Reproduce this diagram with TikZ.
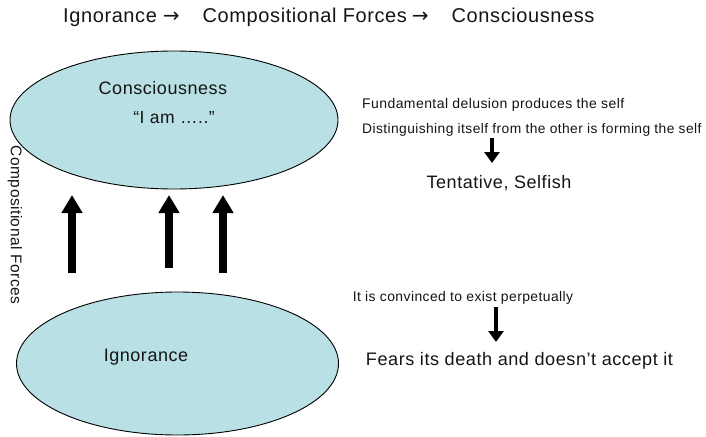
\documentclass[tikz,border=0pt]{standalone}
\usepackage{fontspec}
\setmainfont{Liberation Sans}[LetterSpace=3]
\newfontfamily\arrowfont{DejaVu Sans}
\usetikzlibrary{shapes.geometric,arrows.meta}
\definecolor{cellfill}{RGB}{185,224,228}
\definecolor{ink}{RGB}{20,20,20}
\newcommand{\flowarrow}{{\arrowfont →}}
\begin{document}
\begin{tikzpicture}[x=1pt,y=-1pt,
  cell/.style={ellipse,draw=black,line width=0.9pt,fill=cellfill,inner sep=0pt},
  lbl/.style={text=ink,inner sep=0pt},
  fs/.style={font=\fontsize{#1}{#1}\selectfont},
  uparrow/.style={line width=7.5pt,-{Triangle[width=20pt,length=18pt]}},
  downarrow/.style={line width=4.5pt,-{Triangle[width=15pt,length=11pt]}}]
\useasboundingbox (0,0) rectangle (706,436);

% title line
\node[lbl,fs=20,anchor=west] (title) at (63,17)
  {Ignorance\hspace{6pt}\flowarrow\hspace{23pt}Compositional Forces\hspace{5pt}\flowarrow\hspace{23pt}Consciousness};

% the two states
\node[cell,minimum width=328pt,minimum height=138pt] (cons) at (174,120) {};
\node[cell,minimum width=322pt,minimum height=143pt] (ign) at (177.5,363.5) {};
\node[lbl,fs=18] (constxt) at (163,88) {Consciousness};
\node[lbl,fs=17.5] (iam) at (174,118) {“I am  …..”};
\node[lbl,fs=18] (igntxt) at (146,357) {Ignorance};

% side label
\node[lbl,fs=15.5,rotate=-90] (forces) at (15,225) {Compositional Forces};

% forces pushing upward
\coordinate (f1s) at (72,273);  \coordinate (f1e) at (72,195);
\coordinate (f2s) at (169,268); \coordinate (f2e) at (169,195);
\coordinate (f3s) at (223,273); \coordinate (f3e) at (223,195);
\draw[uparrow] (f1s) -- (f1e);
\draw[uparrow] (f2s) -- (f2e);
\draw[uparrow] (f3s) -- (f3e);

% notes on consciousness
\node[lbl,fs=14,anchor=west] (n1) at (362,105) {Fundamental delusion produces the self};
\node[lbl,fs=13.8,anchor=west] (n2) at (362,130) {Distinguishing itself from the other is forming the self};
\node[lbl,fs=18] (tent) at (499,183) {Tentative, Selfish};
\coordinate (d1s) at (492,138); \coordinate (d1e) at (492,163);
\draw[downarrow] (d1s) -- (d1e);

% notes on ignorance
\node[lbl,fs=13.9] (n3) at (463,298) {It is convinced to exist perpetually};
\node[lbl,fs=18.1] (fears) at (519.5,361) {Fears its death and doesn’t accept it};
\coordinate (d2s) at (496,307); \coordinate (d2e) at (496,342);
\draw[downarrow] (d2s) -- (d2e);
\end{tikzpicture}
\end{document}
